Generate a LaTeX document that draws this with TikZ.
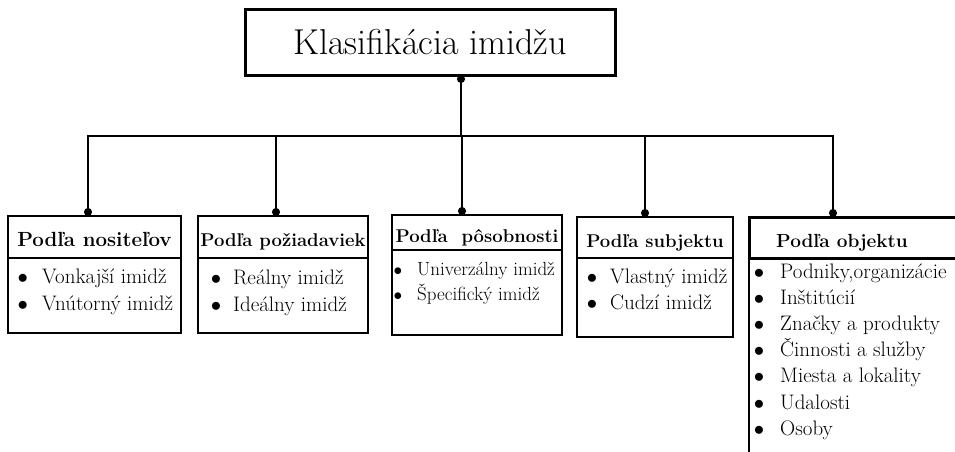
\documentclass[tikz,border=0pt]{standalone}
\usepackage{fontspec}
\usetikzlibrary{arrows.meta,positioning}
\tikzset{
	>={Circle[length=8pt]}, % round dots at the ends of the connectors
	title/.style={draw, line width=3pt, outer sep=0pt, minimum width=370pt, minimum height=66pt, font=\fontsize{36}{42}\selectfont},
	head/.style={draw, line width=2pt, outer sep=0pt, inner sep=0pt, text height=19pt, text depth=0pt, font=\bfseries\fontsize{18.5}{22}\selectfont},
	body/.style={draw, line width=1.2pt, outer sep=0pt, inner sep=0pt},
	item/.style={anchor=base west, inner sep=0pt, font=\fontsize{21}{24}\selectfont},
	conn/.style={line width=1.3pt, ->},
}
\newcommand{\bul}[1]{\makebox[#1][l]{$\bullet$}}

\begin{document}
\begin{tikzpicture}[x=1pt,y=-1pt]
	\clip (0,0) rectangle (955,451);
	\node[title] (top) at (430,42) {Klasifikácia imidžu};

	\node[head, minimum width=173pt, minimum height=42pt, font=\bfseries\fontsize{20.5}{24}\selectfont] (h1) at (94.5,237) {Podľa nositeľov};
	\node[body, minimum width=173pt, minimum height=75pt, below=0pt of h1] (b1) {};
	\node[head, minimum width=170pt, minimum height=42pt] (h2) at (283,237) {Podľa požiadaviek};
	\node[body, minimum width=170pt, minimum height=75pt, below=0pt of h2] (b2) {};
	\node[head, minimum width=170pt, minimum height=35pt] (h3) at (477,232.5) {Podľa~ pôsobnosti};
	\node[body, minimum width=170pt, minimum height=85pt, below=0pt of h3] (b3) {};
	\node[head, minimum width=156pt, minimum height=41pt] (h4) at (655,237.5) {Podľa subjektu};
	\node[body, minimum width=156pt, minimum height=79pt, below=0pt of h4] (b4) {};
	\node[head, line width=3pt, minimum width=240pt, minimum height=41pt, font=\bfseries\fontsize{19}{22}\selectfont] (h5) at (869,237.5) {Podľa objektu\hspace*{54pt}};
	\node[body, minimum width=240pt, minimum height=222pt, below=0pt of h5] (b5) {};

	\foreach \t [count=\i] in {Vonkajší imidž, Vnútorný imidž}
		\node[item] (l1-\i) at ([shift={(9.5,25+27*\i-27)}]b1.north west) {\bul{24.5pt}\t};
	\foreach \t [count=\i] in {Reálny imidž, Ideálny imidž}
		\node[item] (l2-\i) at ([shift={(12.75,26+27*\i-27)}]b2.north west) {\bul{22.25pt}\t};
	\foreach \t [count=\i] in {Univerzálny imidž, Špecifický imidž}
		\node[item, font=\fontsize{19}{22}\selectfont] (l3-\i) at ([shift={(1.5,25+25*\i-25)}]b3.north west) {\bul{23.5pt}\t};
	\foreach \t [count=\i] in {Vlastný imidž, Cudzí imidž}
		\node[item] (l4-\i) at ([shift={(9.75,25+26*\i-26)}]b4.north west) {\bul{23.25pt}\t};
	\foreach \t [count=\i] in {{Podniky,organizácie}, Inštitúcií, Značky a produkty, Činnosti a služby, Miesta a lokality, Udalosti, Osoby}
		\node[item] (l5-\i) at ([shift={(4.75,20+26.2*\i-26.2)}]b5.north west) {\bul{26.25pt}\t};

	\coordinate (split) at (461,136);
	\draw[conn] (split) -- (top.south -| split);
	\foreach \x [count=\n] in {88,276,462,645,833} {
		\coordinate (d\n) at (\x,0);
		\draw[conn] (split) -| (h\n.north -| d\n);
	}
\end{tikzpicture}
\end{document}
